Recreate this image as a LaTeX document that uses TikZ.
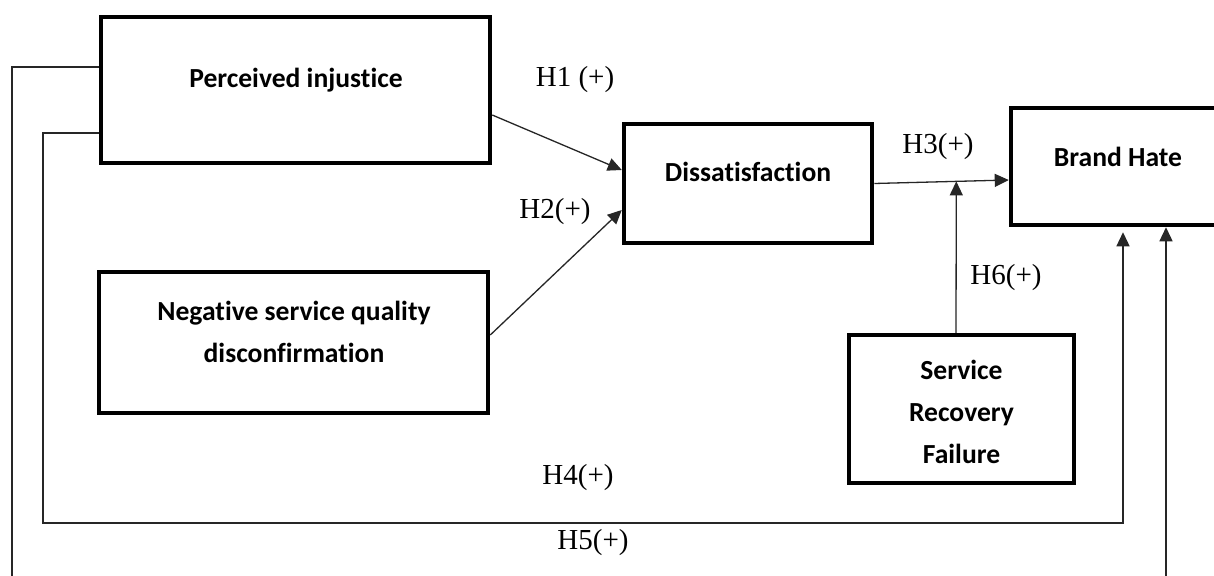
\documentclass[tikz,border=0pt]{standalone}
\usepackage{fontspec}
\setmainfont{Liberation Serif}
\newfontfamily\boxfont[Ligatures=NoCommon]{Carlito}
\usetikzlibrary{arrows.meta}
\begin{document}
\begin{tikzpicture}[x=1pt,y=-1pt,
  box/.style={draw=black,line width=4.5pt,rectangle,inner sep=0pt,fill=white},
  boxtext/.style={font=\boxfont\bfseries\fontsize{27.6}{42}\selectfont,align=center,inner sep=0pt},
  hlab/.style={font=\fontsize{29}{34}\selectfont,inner sep=0pt},
  conn/.style={draw=black!85,line width=1.3pt},
  arr/.style={conn,-{Triangle[length=14pt,width=13pt]}}]
\useasboundingbox (0,0) rectangle (1214,575);
\clip (0,0) rectangle (1214,575);
\fill[white] (0,0) rectangle (1214,575);
% boxes
\node[box,minimum width=389pt,minimum height=146pt] (pi) at (295.5,90) {};
\node[boxtext] (pit) at (296,80) {Perceived injustice};
\node[box,minimum width=389pt,minimum height=141pt] (ns) at (293.5,342.5) {};
\node[boxtext] (nst) at (294,332) {Negative service quality\\disconfirmation};
\node[box,minimum width=248pt,minimum height=119pt] (ds) at (748,183.5) {};
\node[boxtext] (dst) at (748,172) {Dissatisfaction};
\node[box,minimum width=214pt,minimum height=117pt] (bh) at (1118,166.5) {};
\node[boxtext] (bht) at (1118,157) {Brand Hate};
\node[box,minimum width=225pt,minimum height=148pt] (srf) at (961.5,409) {};
\node[boxtext] (srft) at (961.5,411.5) {Service\\Recovery\\Failure};
% corner coordinates
\coordinate (c4a) at (43,133);
\coordinate (c4b) at (43,523);
\coordinate (c4c) at (1123,523);
\coordinate (c5a) at (12,67);
\coordinate (c5b) at (12,620);
\coordinate (c5c) at (1166,620);
% connectors
\draw[arr] ([yshift=-25pt]pi.east) -- ([yshift=13.5pt]ds.west);
\draw[arr] ([yshift=7.5pt]ns.east) -- ([yshift=-26.5pt]ds.west);
\draw[arr] (ds.east) -- coordinate[pos=0.61] (m) ([yshift=-13.5pt]bh.west);
\draw[arr] ([xshift=-5.5pt]srf.north) -- (m);
\draw[arr,shorten >=5pt] ([yshift=-43pt]pi.west) -- (c4a) -- (c4b) -- (c4c) -- ([xshift=5pt]bh.south);
\draw[arr] ([yshift=23pt]pi.west) -- (c5a) -- (c5b) -- (c5c) -- ([xshift=48pt]bh.south);
% labels
\node[hlab] (h1) at (575,80) {H1 (+)};
\node[hlab] (h2) at (555,212) {H2(+)};
\node[hlab] (h3) at (938,147) {H3(+)};
\node[hlab] (h6) at (1006,278) {H6(+)};
\node[hlab] (h4) at (578,478) {H4(+)};
\node[hlab] (h5) at (593,543) {H5(+)};
\end{tikzpicture}
\end{document}
